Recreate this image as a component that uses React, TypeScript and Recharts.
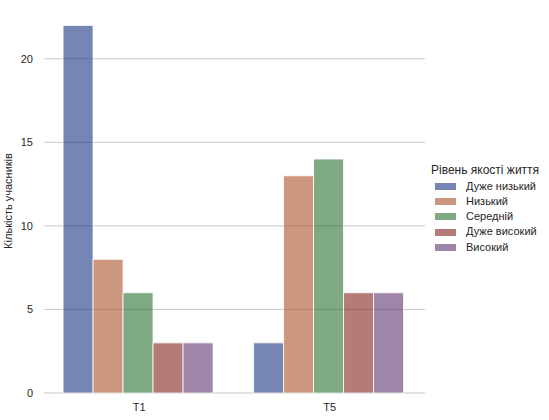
import React from 'react';
import {Bar, BarChart, Legend, ReferenceLine, XAxis, YAxis} from 'recharts';

const CATEGORIES = ['T1', 'T5'];
const LEVELS = ['Дуже низький', 'Низький', 'Середній', 'Дуже високий', 'Високий'];
const VERY_LOW = [22, 3];
const LOW = [8, 13];
const MEDIUM = [6, 14];
const VERY_HIGH = [3, 6];
const HIGH = [3, 6];
const Y_TICKS = [0, 5, 10, 15, 20];

const SERIES = [VERY_LOW, LOW, MEDIUM, VERY_HIGH, HIGH];
const COLORS = ['#1a3380', '#aa5228', '#2a722d', '#84231e', '#5f3372'];
const FONT = '"Liberation Sans", Arial, sans-serif';
const TEXT = '#262626';

const chartData = CATEGORIES.map((name, i) => {
  const row: Record<string, string | number> = {name};
  LEVELS.forEach((level, j) => {
    row[level] = SERIES[j][i];
  });
  return row;
});

const LegendBox = () => (
  <div style={{fontFamily: FONT, fontSize: 11, color: TEXT, lineHeight: '15.3px'}}>
    <div style={{height: 15.3, whiteSpace: 'nowrap', fontSize: 12}}>Рівень якості життя</div>
    {LEVELS.map((level, i) => (
      <div key={level} style={{height: 15.3, display: 'flex', alignItems: 'center', whiteSpace: 'nowrap'}}>
        <span
          style={{
            display: 'inline-block',
            width: 21,
            height: 7,
            marginLeft: 4,
            marginRight: 10,
            background: COLORS[i],
            opacity: 0.6,
            boxSizing: 'border-box',
          }}
        />
        {level}
      </div>
    ))}
  </div>
);

const YLabel = () => (
  <text
    x={8}
    y={201}
    transform="rotate(-90, 8, 201)"
    textAnchor="middle"
    dominantBaseline="central"
    fontFamily={FONT}
    fontSize={11}
    fill={TEXT}
  >
    Кількість учасників
  </text>
);

export default function App() {
  return (
    <div style={{position: 'absolute', left: 0, top: 0, background: '#fff'}}>
      <BarChart
        width={549}
        height={420}
        data={chartData}
        margin={{top: 7, right: 124, left: 0, bottom: 0}}
        barCategoryGap="10%"
        barGap={0}
      >
        {Y_TICKS.map(v => (
          <ReferenceLine key={v} y={v} stroke="#c8c8c8" strokeWidth={1} zIndex={-100} />
        ))}
        <XAxis
          dataKey="name"
          height={27}
          axisLine={false}
          tickLine={false}
          tickSize={0}
          tickMargin={10}
          tick={{fontSize: 11, fontFamily: FONT, fill: TEXT}}
        />
        <YAxis
          width={44}
          type="number"
          domain={[0, 23.1]}
          ticks={Y_TICKS}
          axisLine={false}
          tickLine={false}
          tickSize={0}
          tickMargin={11}
          tick={{fontSize: 11, fontFamily: FONT, fill: TEXT}}
          label={{content: () => <YLabel />}}
        />
        <Legend
          layout="vertical"
          align="center"
          verticalAlign="middle"
          content={() => <LegendBox />}
          wrapperStyle={{left: 431, top: 163.3, width: 'auto'}}
        />
        {LEVELS.map((level, i) => (
          <Bar
            key={level}
            dataKey={level}
            fill={COLORS[i]}
            fillOpacity={0.6}
            stroke="#ffffff"
            strokeOpacity={0.8}
            strokeWidth={1}
            isAnimationActive={false}
          />
        ))}
      </BarChart>
    </div>
  );
}
